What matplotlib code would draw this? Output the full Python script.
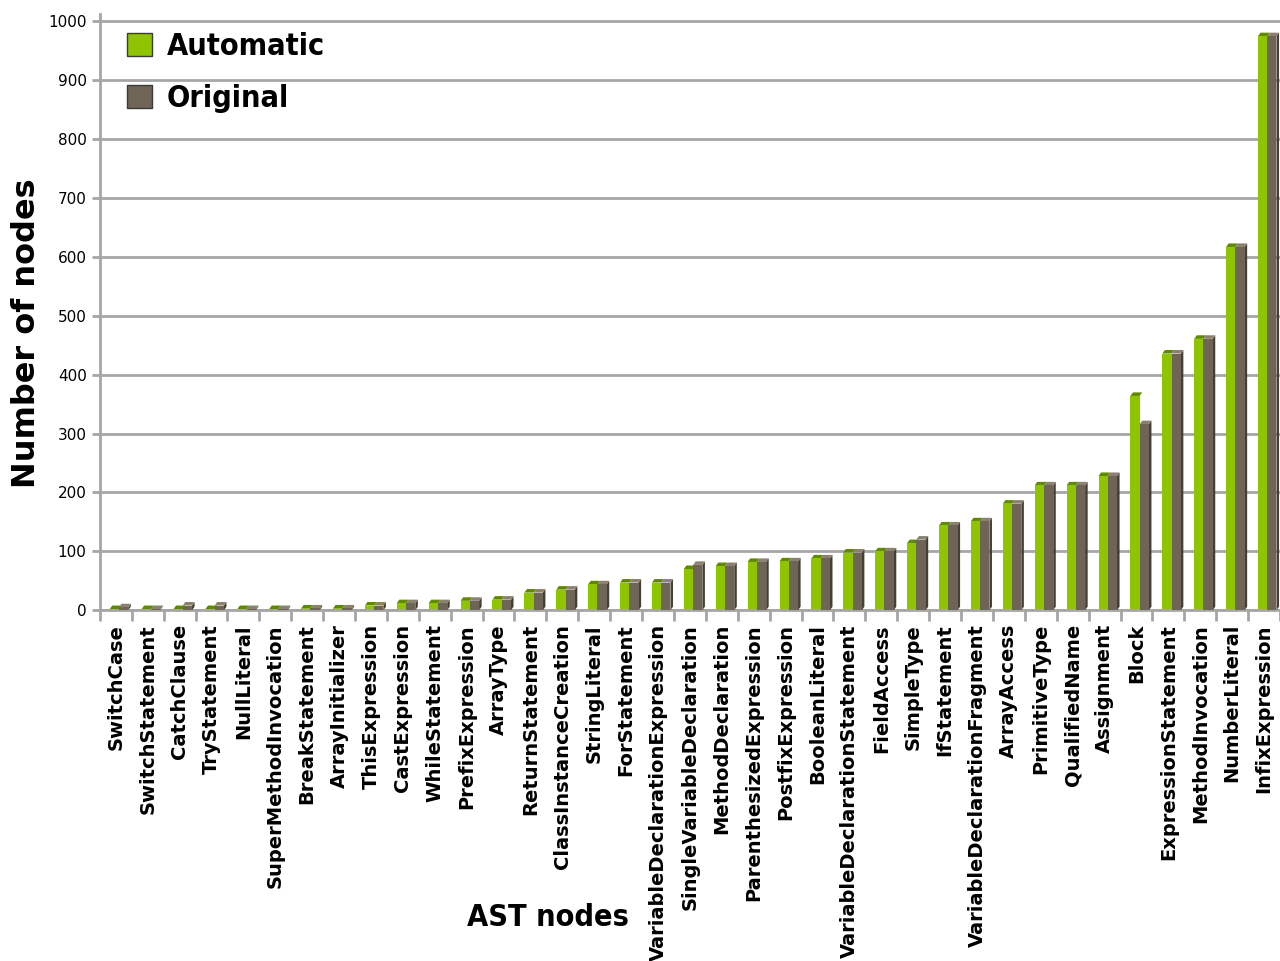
import numpy as np
import matplotlib.pyplot as plt
from matplotlib.patches import Polygon

categories = ['SwitchCase', 'SwitchStatement', 'CatchClause', 'TryStatement', 'NullLiteral',
              'SuperMethodInvocation', 'BreakStatement', 'ArrayInitializer', 'ThisExpression',
              'CastExpression', 'WhileStatement', 'PrefixExpression', 'ArrayType', 'ReturnStatement',
              'ClassInstanceCreation', 'StringLiteral', 'ForStatement', 'VariableDeclarationExpression',
              'SingleVariableDeclaration', 'MethodDeclaration', 'ParenthesizedExpression',
              'PostfixExpression', 'BooleanLiteral', 'VariableDeclarationStatement', 'FieldAccess',
              'SimpleType', 'IfStatement', 'VariableDeclarationFragment', 'ArrayAccess',
              'PrimitiveType', 'QualifiedName', 'Assignment', 'Block', 'ExpressionStatement',
              'MethodInvocation', 'NumberLiteral', 'InfixExpression']
automatic = [2, 2, 2, 2, 2, 2, 3, 3, 8, 12, 12, 16, 18, 30, 35, 44, 47, 47, 70, 75, 82, 83, 88,
             98, 100, 114, 144, 151, 181, 212, 212, 228, 364, 436, 461, 617, 975]
original = [5, 2, 8, 8, 2, 2, 3, 3, 8, 12, 12, 16, 18, 30, 35, 44, 47, 47, 77, 75, 82, 83, 88,
            98, 100, 120, 144, 151, 181, 212, 212, 228, 316, 436, 461, 617, 975]

GREEN = '#8fc400'
GREEN_DARK = '#5f8a00'
GREY = '#6e6556'
GREY_DARK = '#463f35'
GREY_TOP = '#8a8170'

fig = plt.figure(figsize=(12.8, 9.61), dpi=100)
ax = fig.add_axes([0.078, 0.365, 0.922, 0.62])

x = np.arange(len(categories))
w = 0.29
dx, dy = 0.08, 6  # fake 3d depth

for i in x:
    a, o = automatic[i], original[i]
    gx = i - 0.19
    ox = gx + w
    # side face of original bar
    ax.add_patch(Polygon([(ox + w, 0), (ox + w + dx, dy), (ox + w + dx, o + dy), (ox + w, o)],
                         closed=True, color=GREY_DARK, lw=0, zorder=3))
    # top faces
    ax.add_patch(Polygon([(gx, a), (gx + dx, a + dy), (gx + w + dx, a + dy), (gx + w, a)],
                         closed=True, color=GREEN_DARK, lw=0, zorder=2))
    ax.add_patch(Polygon([(ox, o), (ox + dx, o + dy), (ox + w + dx, o + dy), (ox + w, o)],
                         closed=True, color=GREY_TOP, lw=0, zorder=3))

ax.bar(x - 0.19, automatic, width=w, align='edge', color=GREEN, lw=0, zorder=2, label='Automatic')
ax.bar(x - 0.19 + w, original, width=w, align='edge', color=GREY, lw=0, zorder=3, label='Original')

ax.set_xlim(-0.5, len(categories) - 0.5)
ax.set_ylim(0, 1012)
ax.set_yticks(range(0, 1001, 100))
ax.yaxis.grid(True, color='#a6a6a6', lw=2)
ax.set_axisbelow(True)
for s in ['top', 'right']:
    ax.spines[s].set_visible(False)
ax.spines['left'].set_color('#a6a6a6')
ax.spines['left'].set_linewidth(2)
ax.spines['bottom'].set_color('#a6a6a6')
ax.spines['bottom'].set_linewidth(2)
ax.tick_params(axis='y', colors='#a6a6a6', labelcolor='black', labelsize=11, width=2, length=6)

ax.set_xticks(x)
ax.set_xticklabels(categories, rotation=90, fontsize=14, fontweight='bold', family='DejaVu Sans')
ax.set_xticks(np.arange(-0.5, len(categories)), minor=True)
ax.tick_params(axis='x', which='major', length=0, pad=10)
ax.tick_params(axis='x', which='minor', colors='#a6a6a6', width=2, length=8)

fig.text(0.021, 0.653, 'Number of nodes', fontsize=23, fontweight='bold', family='DejaVu Sans',
         rotation=90, ha='center', va='center')
fig.text(0.428, 0.045, 'AST nodes', fontsize=22, fontweight='bold', fontstretch='condensed',
         family='DejaVu Sans', ha='center', va='center')

leg = ax.legend(loc='upper left', bbox_to_anchor=(0.0, 1.016), frameon=False,
                prop={'family': 'DejaVu Sans', 'stretch': 'condensed', 'weight': 'bold', 'size': 22},
                handlelength=0.8, handleheight=0.8, handletextpad=0.5, labelspacing=0.75)
for h in leg.legend_handles:
    h.set_edgecolor('#3a3a3a')
    h.set_linewidth(1)

fig.savefig('out.png')
